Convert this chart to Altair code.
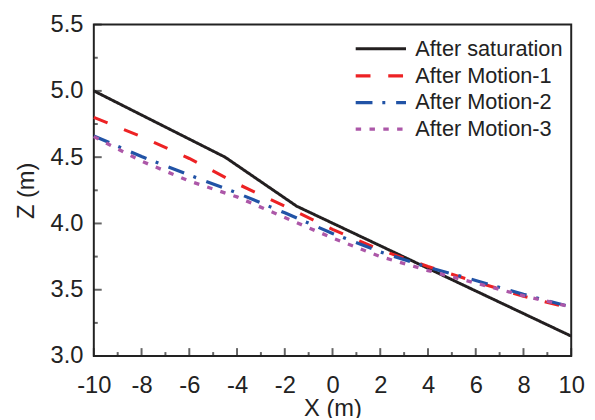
import altair as alt
import pandas as pd

series_names = ["After saturation", "After Motion-1", "After Motion-2", "After Motion-3"]

x_sat = [-10, -4.5, -1.5, 10]
z_sat = [5.0, 4.5, 4.13, 3.15]

x_m = [-10, -8, -6, -4, -2, 0, 2, 4, 6, 8, 10]
z_m1 = [4.80, 4.655, 4.49, 4.30, 4.13, 3.955, 3.80, 3.675, 3.56, 3.45, 3.36]
z_m2 = [4.66, 4.505, 4.365, 4.23, 4.08, 3.925, 3.785, 3.67, 3.57, 3.465, 3.37]
z_m3 = [4.655, 4.47, 4.32, 4.20, 4.045, 3.89, 3.75, 3.645, 3.55, 3.455, 3.37]

x_major = [-10, -8, -6, -4, -2, 0, 2, 4, 6, 8, 10]
x_minor = [-9, -7, -5, -3, -1, 1, 3, 5, 7, 9]
y_major = [3.0, 3.5, 4.0, 4.5, 5.0, 5.5]
y_minor = [3.25, 3.75, 4.25, 4.75, 5.25]

colors = ["#231f20", "#ed2224", "#2153a6", "#ac57a8"]
dashes = [[1, 0], [15, 18], [17, 10, 3, 11], [5.5, 8.5]]
widths = [3.0, 3.4, 3.4, 3.8]

rows = []
for xv, zv in zip(x_sat, z_sat):
    rows.append({"series": series_names[0], "x": xv, "z": zv, "order": xv})
for name, zs in zip(series_names[1:], [z_m1, z_m2, z_m3]):
    for xv, zv in zip(x_m, zs):
        rows.append({"series": name, "x": xv, "z": zv, "order": xv})
df = pd.DataFrame(rows)

FONT = "Liberation Sans"
INK = "#222222"

xscale = alt.Scale(domain=[-10, 10], nice=False, zero=False)
yscale = alt.Scale(domain=[3.0, 5.5], nice=False, zero=False)

x_axis = alt.Axis(values=x_major, orient="bottom", grid=True, gridOpacity=0, domain=False,
                  ticks=False, labelPadding=18, labelFlush=False,
                  labelExpr="datum.value + ''",
                  labelFontSize=24, labelFont=FONT, labelColor=INK,
                  titleFontSize=24, titleFont=FONT, titleFontWeight="normal",
                  titleColor=INK, titlePadding=-1)
y_axis = alt.Axis(values=y_major, orient="left", grid=True, gridOpacity=0, domain=False,
                  ticks=False, labelPadding=11, labelFlush=False,
                  labelExpr="format(datum.value, '.1f')",
                  labelFontSize=24, labelFont=FONT, labelColor=INK,
                  titleFontSize=24, titleFont=FONT, titleFontWeight="normal",
                  titleColor=INK, titlePadding=12)
X_TITLE = "X (m)"
Z_TITLE = "Z (m)"

legend_kw = dict(title=None, orient="none", legendX=279, legendY=13,
                 symbolType="M-2.55,0L2.55,0", symbolSize=400,
                 symbolStrokeWidth=3.2, labelOffset=23,
                 labelFontSize=22, labelFont=FONT, labelColor=INK,
                 rowPadding=4, padding=0)

lines = alt.Chart(df).mark_line(strokeCap="butt", strokeJoin="miter").encode(
    x=alt.X("x:Q", scale=xscale, title=X_TITLE, axis=x_axis),
    y=alt.Y("z:Q", scale=yscale, title=Z_TITLE, axis=y_axis),
    color=alt.Color("series:N", scale=alt.Scale(domain=series_names, range=colors),
                    legend=alt.Legend(**legend_kw)),
    strokeDash=alt.StrokeDash("series:N", scale=alt.Scale(domain=series_names, range=dashes),
                              legend=alt.Legend(**legend_kw)),
    strokeWidth=alt.StrokeWidth("series:N", scale=alt.Scale(domain=series_names, range=widths),
                                legend=None),
    order="order:Q",
)


def x_tick_layer(values, length):
    return alt.Chart(pd.DataFrame({"x": values})).mark_tick(
        orient="vertical", thickness=2, size=length, color=INK
    ).encode(
        x=alt.X("x:Q", scale=xscale, title=X_TITLE, axis=x_axis),
        y=alt.Y(datum=3.0, scale=yscale, title=Z_TITLE, axis=y_axis),
        yOffset=alt.value(-length / 2),
    )


def y_tick_layer(values, length):
    return alt.Chart(pd.DataFrame({"z": values})).mark_tick(
        orient="horizontal", thickness=2, size=length, color=INK
    ).encode(
        y=alt.Y("z:Q", scale=yscale, title=Z_TITLE, axis=y_axis),
        x=alt.X(datum=-10, scale=xscale, title=X_TITLE, axis=x_axis),
        xOffset=alt.value(length / 2),
    )


chart = alt.layer(
    lines,
    x_tick_layer(x_major, 8), x_tick_layer(x_minor, 4),
    y_tick_layer(y_major, 8), y_tick_layer(y_minor, 4),
).properties(
    width=484, height=336,
    autosize=alt.AutoSizeParams(type="none"),
    padding={"left": 87, "top": 14, "right": 16, "bottom": 60},
).configure_view(stroke=INK, strokeWidth=2)

chart.save("out.html", embed_options={"renderer": "svg", "actions": False})
